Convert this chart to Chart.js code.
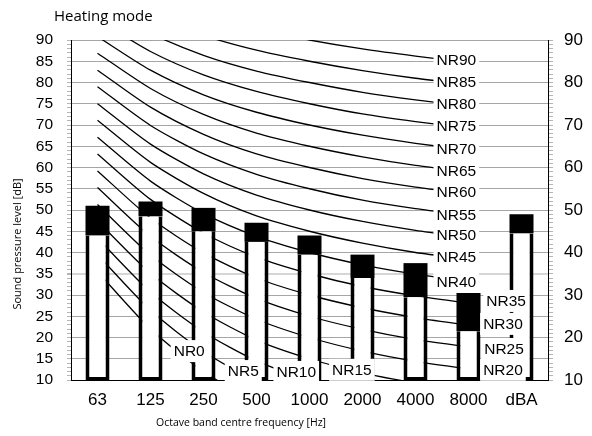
<!DOCTYPE html>
<html>
<head>
<meta charset="utf-8">
<script src="https://cdn.jsdelivr.net/npm/chart.js@4.4.1/dist/chart.umd.min.js"></script>
<style>
  html, body { margin: 0; padding: 0; background: #fff; }
  canvas { display: block; }
</style>
</head>
<body>
<canvas id="grafico" width="592" height="436"></canvas>
<script>
// bandas de oitava + dBA
const bands = ["63", "125", "250", "500", "1000", "2000", "4000", "8000", "dBA"];
// nivel inferior (parte branca) e nivel total (topo da barra preta)
const baseLevel = [44, 48.5, 45, 42.5, 39.5, 34, 29.5, 21.5, 44.5];
const peakLevel = [51, 52, 50.5, 47, 44, 39.5, 37.5, 30.5, 49];

// curvas NR, 63 Hz .. 8000 Hz
const nrNames = ["NR0", "NR5", "NR10", "NR15", "NR20", "NR25", "NR30", "NR35", "NR40", "NR45",
                 "NR50", "NR55", "NR60", "NR65", "NR70", "NR75", "NR80", "NR85", "NR90"];
const nrCurves = [
  [35.5, 22.0, 12.0, 4.8, 0, -3.5, -6.1, -8.0],
  [39.5, 26.4, 16.7, 9.7, 5, 1.6, -1.0, -2.9],
  [43.4, 30.7, 21.3, 14.5, 10, 6.7, 4.2, 2.3],
  [47.4, 35.1, 26.0, 19.4, 15, 11.7, 9.3, 7.5],
  [51.3, 39.4, 30.6, 24.3, 20, 16.8, 14.4, 12.6],
  [55.3, 43.8, 35.3, 29.2, 25, 21.9, 19.5, 17.8],
  [59.2, 48.1, 39.9, 34.0, 30, 27.0, 24.7, 22.9],
  [63.2, 52.5, 44.6, 38.9, 35, 32.0, 29.8, 28.1],
  [67.1, 56.8, 49.2, 43.8, 40, 37.1, 34.9, 33.2],
  [71.1, 61.2, 53.9, 48.6, 45, 42.2, 40.0, 38.4],
  [75.0, 65.5, 58.5, 53.5, 50, 47.3, 45.2, 43.5],
  [79.0, 69.9, 63.2, 58.4, 55, 52.3, 50.3, 48.7],
  [82.9, 74.2, 67.8, 63.2, 60, 57.4, 55.4, 53.8],
  [86.9, 78.6, 72.5, 68.1, 65, 62.5, 60.5, 59.0],
  [90.8, 82.9, 77.1, 73.0, 70, 67.6, 65.7, 64.1],
  [94.8, 87.3, 81.8, 77.9, 75, 72.6, 70.8, 69.3],
  [98.7, 91.6, 86.4, 82.7, 80, 77.7, 75.9, 74.4],
  [102.7, 96.0, 91.1, 87.6, 85, 82.8, 81.0, 79.6],
  [106.6, 100.3, 95.7, 92.5, 90, 87.9, 86.2, 84.7]
];
// onde fica cada rotulo NR (indice da banda, dB)
const nrLabelX = [1.73, 2.75, 3.75, 4.80, 7.65, 7.67, 7.65, 7.71, 6.77, 6.77,
                  6.77, 6.77, 6.77, 6.77, 6.77, 6.77, 6.77, 6.77, 6.77];
const nrLabelY = [16.8, 12.1, 11.9, 12.4, 12.4, 17.3, 23.2, 28.6, 33.1, 39.0,
                  44.1, 48.8, 54.3, 59.2, 64.5, 69.8, 74.9, 80.2, 85.3];

const FONTE = "'Liberation Sans', Arial, sans-serif";

// rotulos NR com fundo branco + titulos
const rotulos = {
  id: "rotulos",
  afterDatasetsDraw(chart) {
    const { ctx, scales: { x, y } } = chart;
    ctx.save();
    ctx.font = "15.5px " + FONTE;
    ctx.textAlign = "center";
    ctx.textBaseline = "middle";
    nrNames.forEach((n, i) => {
      const px = x.getPixelForValue(nrLabelX[i]);
      const py = y.getPixelForValue(nrLabelY[i]);
      const w = ctx.measureText(n).width + 6;
      ctx.fillStyle = "#fff";
      ctx.fillRect(px - w / 2, py - 11, w, 22);
      ctx.fillStyle = "#000";
      ctx.fillText(n, px, py + 1);
    });
    ctx.restore();
  },
  afterDraw(chart) {
    const ctx = chart.ctx;
    ctx.save();
    ctx.fillStyle = "#000";
    ctx.font = "15px 'Open Sans', sans-serif";
    ctx.textAlign = "left";
    ctx.textBaseline = "alphabetic";
    ctx.fillText("Heating mode", 54, 21);
    ctx.font = "10.5px 'Open Sans', sans-serif";
    ctx.textAlign = "center";
    ctx.textBaseline = "middle";
    ctx.fillText("Octave band centre frequency [Hz]", 241, 423);
    ctx.font = "11px 'Open Sans', sans-serif";
    ctx.translate(18, 244);
    ctx.rotate(-Math.PI / 2);
    ctx.fillText("Sound pressure level [dB]", 0, 0);
    ctx.restore();
  }
};

const linhas = nrCurves.map((d, i) => ({
  type: "line",
  label: nrNames[i],
  data: d,
  borderColor: "#000",
  borderWidth: 1.3,
  pointRadius: 0,
  tension: 0.25,
  order: 3
}));

const barraBase = {
  type: "bar",
  label: "base",
  data: baseLevel.map(v => [10, v]),
  backgroundColor: "#fff",
  borderColor: "#000",
  borderWidth: { left: 4, right: 4, bottom: 3, top: 0 },
  borderSkipped: false,
  grouped: false,
  barPercentage: 0.453,
  categoryPercentage: 1,
  order: 1
};
const barraTopo = {
  type: "bar",
  label: "topo",
  data: baseLevel.map((v, i) => [v, peakLevel[i]]),
  backgroundColor: "#000",
  borderWidth: 0,
  grouped: false,
  barPercentage: 0.453,
  categoryPercentage: 1,
  order: 1
};

const corGrade = c => {
  const v = c.tick.value;
  if (v % 5 !== 0) return "rgba(0,0,0,0)";
  return v === 35 ? "#d6d6d6" : "#a6a6a6";
};

new Chart(document.getElementById("grafico"), {
  type: "bar",
  data: { labels: bands, datasets: [barraBase, barraTopo, ...linhas] },
  options: {
    responsive: false,
    animation: false,
    events: [],
    layout: { padding: { top: 40, left: 0, right: 0, bottom: 0 } },
    plugins: { legend: { display: false }, tooltip: { enabled: false } },
    scales: {
      x: {
        grid: { display: false, drawTicks: false },
        border: { color: "#000", width: 1 },
        ticks: { color: "#000", font: { family: FONTE, size: 17 }, padding: 10 },
        afterFit: s => { s.height = 56; }
      },
      y: {
        position: "left",
        min: 10, max: 90,
        ticks: {
          stepSize: 1, autoSkip: false, color: "#000",
          font: { family: FONTE, size: 15.5 }, padding: 14,
          callback: v => (v % 5 === 0 ? v : "")
        },
        grid: {
          color: corGrade,
          lineWidth: c => (c.tick.value === 35 ? 2 : 1),
          tickColor: "#b5b5b5", tickLength: 4
        },
        border: { color: "#000", width: 1 },
        afterFit: s => { s.width = 71; }
      },
      y2: {
        position: "right",
        min: 10, max: 90,
        ticks: {
          stepSize: 1, autoSkip: false, color: "#000",
          font: { family: FONTE, size: 17 }, padding: 11,
          callback: v => (v % 10 === 0 ? v : "")
        },
        grid: { drawOnChartArea: false, tickColor: "#b5b5b5", tickLength: 5 },
        border: { color: "#000", width: 1 },
        afterFit: s => { s.width = 44; }
      }
    }
  },
  plugins: [rotulos]
});
</script>
</body>
</html>
